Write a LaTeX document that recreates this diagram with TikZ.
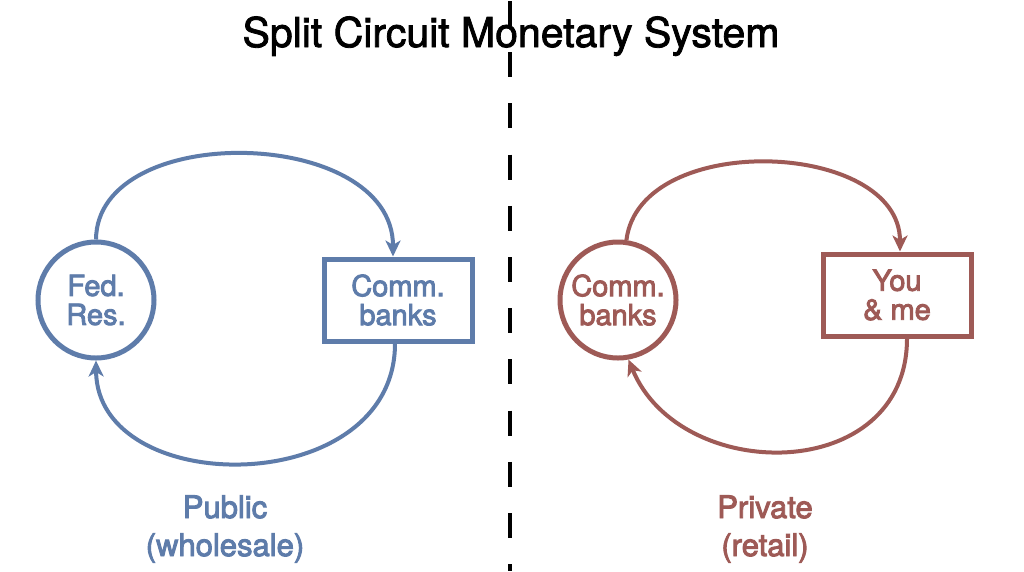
\documentclass[tikz,border=0pt]{standalone}
\usepackage{fontspec}
\setmainfont{TeX Gyre Heros}
\newfontfamily\medfont[FakeBold=3]{TeX Gyre Heros}
\newfontfamily\titlefont[FakeBold=2]{TeX Gyre Heros}
\usetikzlibrary{arrows.meta}
\definecolor{pubblue}{RGB}{94,124,170}
\definecolor{privred}{RGB}{158,90,86}
\begin{document}
\begin{tikzpicture}[x=1pt,y=-1pt,
  circnode/.style={circle, draw, line width=5pt, minimum size=116pt, inner sep=0pt, align=center, font=\medfont\fontsize{29}{29}\selectfont},
  boxnode/.style={rectangle, draw, line width=5pt, minimum width=148pt, minimum height=82pt, inner sep=0pt, align=center, font=\medfont\fontsize{29}{29}\selectfont},
  flow/.style={line width=4pt, -{Stealth[length=16pt,width=15pt,inset=4.5pt]}},
  sidelabel/.style={align=center, inner sep=0pt, font=\medfont\fontsize{31}{38}\selectfont},
  divider/.style={line width=4.5pt, black, dash pattern=on 25pt off 26.2pt},
]
\useasboundingbox (0,0) rectangle (1024,571);
\fill[white] (0,0) rectangle (1024,571);

\node[anchor=base, inner sep=0pt, font=\titlefont\fontsize{41}{44}\selectfont] (title) at (511,47) {Split Circuit Monetary System};

% public side
\node[circnode, draw=pubblue, text=pubblue] (fed) at (96,300) {Fed.\\Res.};
\node[boxnode, draw=pubblue, text=pubblue] (cbl) at (398,300) {Comm.\\banks};
\draw[flow, pubblue] (fed.north) .. controls (97,120) and (393,126) .. ([xshift=-5pt]cbl.north);
\draw[flow, pubblue] ([xshift=-3pt]cbl.south) .. controls (395,500) and (97,500) .. (fed.south);
\node[sidelabel, text=pubblue] (pub) at (225,529) {Public\\(wholesale)};

% private side
\node[circnode, draw=privred, text=privred] (cbr) at (618,300) {Comm.\\banks};
\node[boxnode, draw=privred, text=privred] (you) at (897,295) {You\\\& me};
\draw[flow, privred] (cbr.82) .. controls (640,130) and (900,140) .. ([xshift=3pt]you.north);
\draw[flow, privred] ([xshift=10pt]you.south) .. controls (907,485) and (680,485) .. (cbr.-80);
\node[sidelabel, text=privred] (priv) at (765,529) {Private\\(retail)};

% divider
\coordinate (dtop) at (510,1);
\coordinate (dbot) at (510,571);
\draw[divider] (dtop) -- (dbot);
\end{tikzpicture}
\end{document}
